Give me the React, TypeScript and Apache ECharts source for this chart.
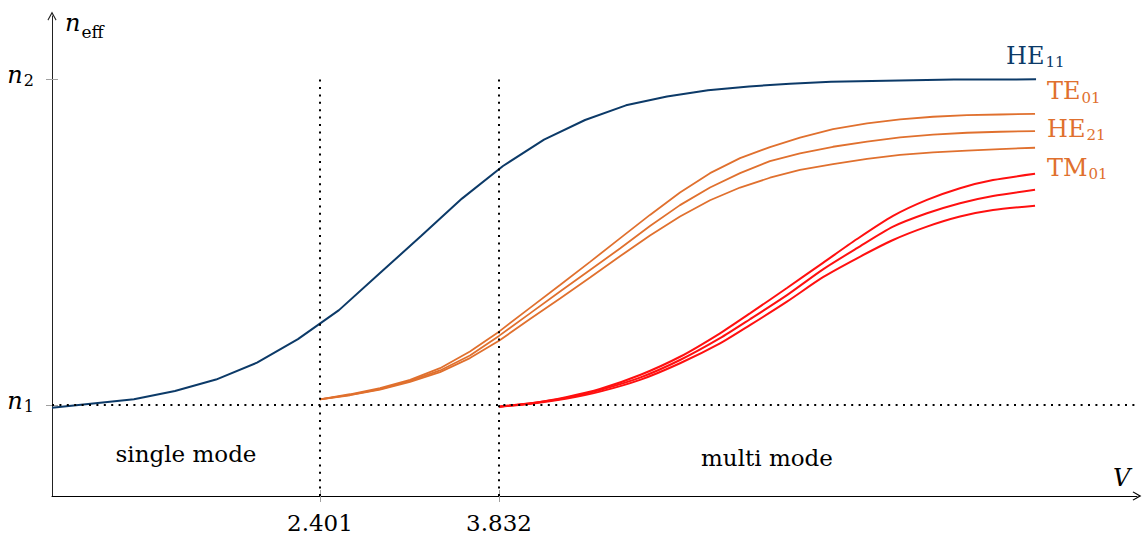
import React, { useEffect, useRef } from 'react';
import * as echarts from 'echarts';

const FONT = 'DejaVu Serif';
const BLUE = '#0c3a68';
const ORANGE = '#e0702e';
const RED = '#ff1010';

// HE11 fundamental mode
const he11V = [0.259, 0.587, 0.914, 1.242, 1.570, 1.898, 2.225, 2.553, 2.881, 3.209, 3.536, 3.864, 4.192, 4.520, 4.847, 5.175, 5.503, 5.831, 6.158, 6.486, 6.814, 7.142, 7.469, 7.797, 8.125];
const he11N = [0.992, 1.005, 1.018, 1.043, 1.078, 1.130, 1.202, 1.291, 1.405, 1.518, 1.633, 1.733, 1.814, 1.874, 1.919, 1.946, 1.965, 1.977, 1.985, 1.991, 1.994, 1.996, 1.998, 1.998, 1.999];

// second group (orange)
const orangeV = [2.401, 2.641, 2.881, 3.121, 3.361, 3.600, 3.832, 4.080, 4.320, 4.560, 4.799, 5.039, 5.279, 5.519, 5.759, 5.998, 6.238, 6.502, 6.774, 7.038, 7.301, 7.573, 7.837, 8.117];
const te01N = [1.017, 1.033, 1.052, 1.077, 1.113, 1.164, 1.225, 1.298, 1.368, 1.439, 1.511, 1.583, 1.652, 1.711, 1.757, 1.791, 1.820, 1.846, 1.864, 1.876, 1.884, 1.889, 1.891, 1.893];
const he21N = [1.017, 1.031, 1.049, 1.074, 1.106, 1.152, 1.212, 1.281, 1.348, 1.414, 1.480, 1.549, 1.613, 1.667, 1.711, 1.748, 1.772, 1.792, 1.808, 1.821, 1.829, 1.835, 1.838, 1.840];
const tm01N = [1.017, 1.030, 1.047, 1.071, 1.101, 1.144, 1.197, 1.264, 1.327, 1.391, 1.456, 1.520, 1.578, 1.628, 1.667, 1.697, 1.721, 1.739, 1.755, 1.767, 1.775, 1.780, 1.785, 1.789];

// third group (red)
const redV = [3.832, 4.104, 4.376, 4.639, 4.959, 5.279, 5.599, 5.838, 6.134, 6.422, 6.694, 6.982, 7.253, 7.517, 7.781, 8.117];
const eh11N = [0.995, 1.006, 1.025, 1.049, 1.092, 1.148, 1.220, 1.281, 1.359, 1.436, 1.509, 1.580, 1.629, 1.665, 1.690, 1.709];
const he31N = [0.995, 1.006, 1.022, 1.046, 1.084, 1.138, 1.205, 1.263, 1.337, 1.416, 1.481, 1.547, 1.588, 1.619, 1.641, 1.660];
const he12N = [0.995, 1.005, 1.020, 1.041, 1.077, 1.128, 1.189, 1.245, 1.317, 1.392, 1.450, 1.506, 1.547, 1.578, 1.598, 1.611];

const xTickValues = [2.401, 3.832];
const xTickLabels = ['2.401', '3.832'];
const yTickValues = [1, 2];
const yTickSubs = ['1', '2'];
const xRange = [0.259, 8.932];
const yRange = [0.721, 2.193];

const zip = (xs: number[], ys: number[]) => xs.map((x, i) => [x, ys[i]]);

const ARROW = 'path://M5,0 L10,9 L9.1,9.8 L5,2.8 L0.9,9.8 L0,9 Z';

export default function App() {
  const ref = useRef<HTMLDivElement>(null);
  useEffect(() => {
    document.body.style.margin = '0';
    if (!ref.current) return;
    const chart = echarts.init(ref.current, null, { renderer: 'svg' });

    const line = (name: string, xs: number[], ys: number[], color: string, width: number, smooth: number | boolean, extra: any = {}) => ({
      type: 'line',
      name,
      data: zip(xs, ys),
      showSymbol: false,
      symbol: 'none',
      smooth,
      lineStyle: { color, width },
      itemStyle: { color },
      silent: true,
      z: 3,
      ...extra,
    });

    const labelRich = (fill: string) => ({
      b: { fontFamily: FONT, fontSize: 24, lineHeight: 16, verticalAlign: 'top', fill },
      s: { fontFamily: FONT, fontSize: 15, lineHeight: 16, verticalAlign: 'top', padding: [11, 0, 0, 1], fill },
    });

    const curveLabel = (base: string, sub: string, x: number, y: number, fill: string) => ({
      type: 'text',
      x,
      y,
      silent: true,
      style: {
        text: `{b|${base}}{s|${sub}}`,
        rich: labelRich(fill),
        fill,
        align: 'left',
        verticalAlign: 'top',
      },
    });

    const tickLine = { show: true, length: 6, lineStyle: { color: '#a0a0a0', width: 1 } };

    const option: any = {
      animation: false,
      grid: { left: 52, right: 6, top: 16, bottom: 43, containLabel: false, outerBoundsMode: 'none' },
      xAxis: [
        {
          type: 'value',
          position: 'bottom',
          min: xRange[0],
          max: xRange[1],
          splitLine: { show: false },
          axisLine: { show: true, lineStyle: { color: '#000', width: 1 }, symbol: ['none', ARROW], symbolSize: [9, 10] },
          axisTick: { ...tickLine, inside: false, customValues: xTickValues },
          axisLabel: {
            customValues: xTickValues,
            margin: 15,
            fontFamily: FONT,
            fontSize: 23,
            lineHeight: 23,
            color: '#000',
            formatter: (v: number) => {
              const i = xTickValues.findIndex((t) => Math.abs(t - v) < 1e-6);
              return i >= 0 ? xTickLabels[i] : '';
            },
          },
        },
        {
          type: 'value',
          position: 'bottom',
          min: xRange[0],
          max: xRange[1],
          splitLine: { show: false },
          axisLine: { show: false },
          axisTick: { ...tickLine, inside: true, customValues: xTickValues },
          axisLabel: { show: false },
        },
      ],
      yAxis: [
        {
          type: 'value',
          position: 'left',
          min: yRange[0],
          max: yRange[1],
          splitLine: { show: false },
          axisLine: { show: true, lineStyle: { color: '#222', width: 1 }, symbol: ['none', ARROW], symbolSize: [9, 10] },
          axisTick: { ...tickLine, inside: false, customValues: yTickValues },
          axisLabel: {
            customValues: yTickValues,
            margin: 18,
            color: '#000',
            formatter: (v: number) => {
              const i = yTickValues.findIndex((t) => Math.abs(t - v) < 1e-6);
              return i >= 0 ? `{n|n}{s|${yTickSubs[i]}}` : '';
            },
            rich: {
              n: { fontFamily: FONT, fontStyle: 'italic', fontSize: 24, lineHeight: 16, verticalAlign: 'top', color: '#000' },
              s: { fontFamily: FONT, fontSize: 16, lineHeight: 32, verticalAlign: 'top', padding: [9.5, 0, 0, 1], color: '#000' },
            },
          },
        },
        {
          type: 'value',
          position: 'left',
          min: yRange[0],
          max: yRange[1],
          splitLine: { show: false },
          axisLine: { show: false },
          axisTick: { ...tickLine, inside: true, customValues: yTickValues },
          axisLabel: { show: false },
        },
      ],
      series: [
        line('HE11', he11V, he11N, BLUE, 2, false, {
          markLine: {
            silent: true,
            symbol: ['none', 'none'],
            label: { show: false },
            lineStyle: { color: '#000', type: [2, 5.4], width: 2 },
            emphasis: { disabled: true },
            data: [
              [{ coord: [xTickValues[0], yRange[0]] }, { coord: [xTickValues[0], yTickValues[1]] }],
              [{ coord: [xTickValues[1], yRange[0]] }, { coord: [xTickValues[1], yTickValues[1]] }],
              [{ coord: [xRange[0], yTickValues[0]] }, { coord: [xRange[1], yTickValues[0]] }],
            ],
          },
        }),
        line('TE01', orangeV, te01N, ORANGE, 1.8, false),
        line('HE21', orangeV, he21N, ORANGE, 1.8, false),
        line('TM01', orangeV, tm01N, ORANGE, 1.8, false),
        line('EH11', redV, eh11N, RED, 2, 0.25),
        line('HE31', redV, he31N, RED, 2, 0.25),
        line('HE12', redV, he12N, RED, 2, 0.25),
      ],
      graphic: [
        curveLabel('HE', '11', 1006, 43.7, BLUE),
        curveLabel('TE', '01', 1047, 79.4, ORANGE),
        curveLabel('HE', '21', 1047, 116.7, ORANGE),
        curveLabel('TM', '01', 1047, 155.7, ORANGE),
        {
          type: 'text',
          x: 65,
          y: 11,
          silent: true,
          style: {
            text: '{n|n}{e|eff}',
            fill: '#000',
            align: 'left',
            verticalAlign: 'top',
            rich: {
              n: { fontFamily: FONT, fontStyle: 'italic', fontSize: 24, lineHeight: 16, verticalAlign: 'top', fill: '#000' },
              e: { fontFamily: FONT, fontSize: 17, lineHeight: 16, verticalAlign: 'top', padding: [12.4, 0, 0, 1], fill: '#000' },
            },
          },
        },
        {
          type: 'text',
          x: 1113,
          y: 477.5,
          silent: true,
          style: { text: 'V', fontFamily: FONT, fontStyle: 'italic', fontSize: 24, fill: '#000', align: 'left', verticalAlign: 'middle' },
        },
        {
          type: 'text',
          x: 186,
          y: 453.7,
          silent: true,
          style: { text: 'single mode', fontFamily: FONT, fontSize: 23, fill: '#000', align: 'center', verticalAlign: 'middle' },
        },
        {
          type: 'text',
          x: 767,
          y: 458,
          silent: true,
          style: { text: 'multi mode', fontFamily: FONT, fontSize: 23, fill: '#000', align: 'center', verticalAlign: 'middle' },
        },
      ],
    };

    chart.setOption(option);
    return () => chart.dispose();
  }, []);

  return <div ref={ref} style={{ width: 1143, height: 539 }} />;
}
